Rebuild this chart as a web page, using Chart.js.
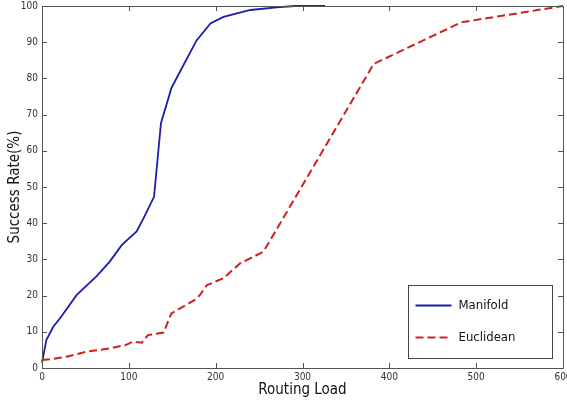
<!DOCTYPE html>
<html>
<head>
<meta charset="utf-8">
<script src="https://cdn.jsdelivr.net/npm/chart.js@4/dist/chart.umd.min.js"></script>
<style>
  html, body { margin: 0; padding: 0; background: #fff; }
  #wrap { width: 567px; height: 402px; }
</style>
</head>
<body>
<div id="wrap"><canvas id="routeChart" width="567" height="402"></canvas></div>
<script>
// === DATA ===
const manifoldX = [0, 5, 13, 21, 40, 63, 78, 92, 109, 117, 129, 137, 149, 161, 178, 194, 209, 240, 270, 291, 326];
const manifoldY = [1.5, 7.7, 11.4, 13.8, 20.2, 25.4, 29.4, 34, 37.7, 41.4, 47.3, 67.6, 77.3, 82.8, 90.5, 95.2, 97, 98.9, 99.6, 100, 100];

const euclidX = [0, 9, 28, 51, 78, 97, 105, 115, 122, 140, 149, 159, 176, 182, 190, 209, 228, 255, 382, 483, 600];
const euclidY = [2.2, 2.4, 3.1, 4.5, 5.4, 6.4, 7.3, 7.0, 9.1, 9.8, 15.1, 16.5, 18.8, 20.2, 22.9, 24.8, 28.9, 32.1, 84, 95.5, 100];

const xTicks = [0, 100, 200, 300, 400, 500, 600];
const yTicks = [0, 10, 20, 30, 40, 50, 60, 70, 80, 90, 100];

const FONT = "'DejaVu Sans Condensed', 'Liberation Sans', Arial, sans-serif";

function toPoints(xs, ys) {
    return xs.map((x, i) => ({ x: x, y: ys[i] }));
}

// === PLUGIN: kotak frame + tick ke dalam (gaya Matlab) ===
const framePlugin = {
    id: 'frame',
    afterDatasetsDraw(chart) {
        const { ctx, chartArea: a, scales } = chart;
        const len = 5;
        ctx.save();
        ctx.strokeStyle = '#555';
        ctx.lineWidth = 1;
        ctx.beginPath();
        ctx.rect(Math.round(a.left) + 0.5, Math.round(a.top) + 0.5,
                 Math.round(a.right - a.left), Math.round(a.bottom - a.top));
        xTicks.forEach(v => {
            const px = Math.round(scales.x.getPixelForValue(v)) + 0.5;
            ctx.moveTo(px, a.bottom); ctx.lineTo(px, a.bottom - len);
            ctx.moveTo(px, a.top); ctx.lineTo(px, a.top + len);
        });
        yTicks.forEach(v => {
            const py = Math.round(scales.y.getPixelForValue(v)) + 0.5;
            ctx.moveTo(a.left, py); ctx.lineTo(a.left + len, py);
            ctx.moveTo(a.right, py); ctx.lineTo(a.right - len, py);
        });
        ctx.stroke();
        ctx.restore();
    }
};

// === PLUGIN: legend di dalam plot, kanan bawah ===
const boxLegend = {
    id: 'boxLegend',
    afterDraw(chart) {
        const { ctx, chartArea: a } = chart;
        const w = 144, h = 73;
        const left = Math.round(a.right - 11 - w) + 0.5;
        const top = Math.round(a.bottom - 10 - h) + 0.5;
        ctx.save();
        ctx.fillStyle = '#fff';
        ctx.fillRect(left, top, w, h);
        ctx.strokeStyle = '#444';
        ctx.lineWidth = 1;
        ctx.strokeRect(left, top, w, h);
        ctx.font = '13px ' + FONT;
        ctx.textBaseline = 'middle';
        chart.data.datasets.forEach((ds, i) => {
            const y = top + 20 + i * 32;
            ctx.beginPath();
            ctx.strokeStyle = ds.borderColor;
            ctx.lineWidth = ds.borderWidth;
            ctx.setLineDash(ds.borderDash || []);
            ctx.moveTo(left + 7, y);
            ctx.lineTo(left + 43, y);
            ctx.stroke();
            ctx.setLineDash([]);
            ctx.fillStyle = '#111';
            ctx.fillText(ds.label, left + 50, y);
        });
        ctx.restore();
    }
};

// === SETUP CHART ===
const ctx = document.getElementById('routeChart').getContext('2d');
const routeChart = new Chart(ctx, {
    type: 'line',
    data: {
        datasets: [{
            label: 'Manifold',
            data: toPoints(manifoldX, manifoldY),
            borderColor: '#1c1cae',
            borderWidth: 1.8,
            tension: 0,
            pointRadius: 0,
            clip: false
        }, {
            label: 'Euclidean',
            data: toPoints(euclidX, euclidY),
            borderColor: '#cf1f1f',
            borderWidth: 2,
            borderDash: [8, 4],
            tension: 0,
            pointRadius: 0,
            clip: false
        }]
    },
    options: {
        responsive: false,
        animation: false,
        layout: { padding: { top: 6, right: 4, left: 0, bottom: 0 } },
        scales: {
            x: {
                type: 'linear',
                min: 0,
                max: 600,
                afterBuildTicks: s => { s.ticks = xTicks.map(v => ({ value: v })); },
                afterFit: s => { s.height = 34; s.paddingLeft = 0; s.paddingRight = 0; },
                grid: { display: false, drawTicks: false },
                border: { display: false },
                ticks: {
                    padding: 3,
                    color: '#333',
                    font: { family: FONT, size: 10 },
                    maxRotation: 0
                },
                title: {
                    display: true,
                    text: 'Routing Load',
                    color: '#111',
                    font: { family: FONT, size: 15 },
                    padding: { bottom: 3, top: 0 }
                }
            },
            y: {
                min: 0,
                max: 100,
                afterBuildTicks: s => { s.ticks = yTicks.map(v => ({ value: v })); },
                afterFit: s => { s.width = 42; s.paddingTop = 0; s.paddingBottom = 0; },
                grid: { display: false, drawTicks: false },
                border: { display: false },
                ticks: {
                    padding: 4,
                    color: '#333',
                    font: { family: FONT, size: 10 }
                },
                title: {
                    display: true,
                    text: 'Success Rate(%)',
                    color: '#111',
                    font: { family: FONT, size: 15 },
                    padding: { top: 6, bottom: 0 }
                }
            }
        },
        plugins: {
            legend: { display: false },
            tooltip: { enabled: false }
        }
    },
    plugins: [framePlugin, boxLegend]
});
</script>
</body>
</html>
